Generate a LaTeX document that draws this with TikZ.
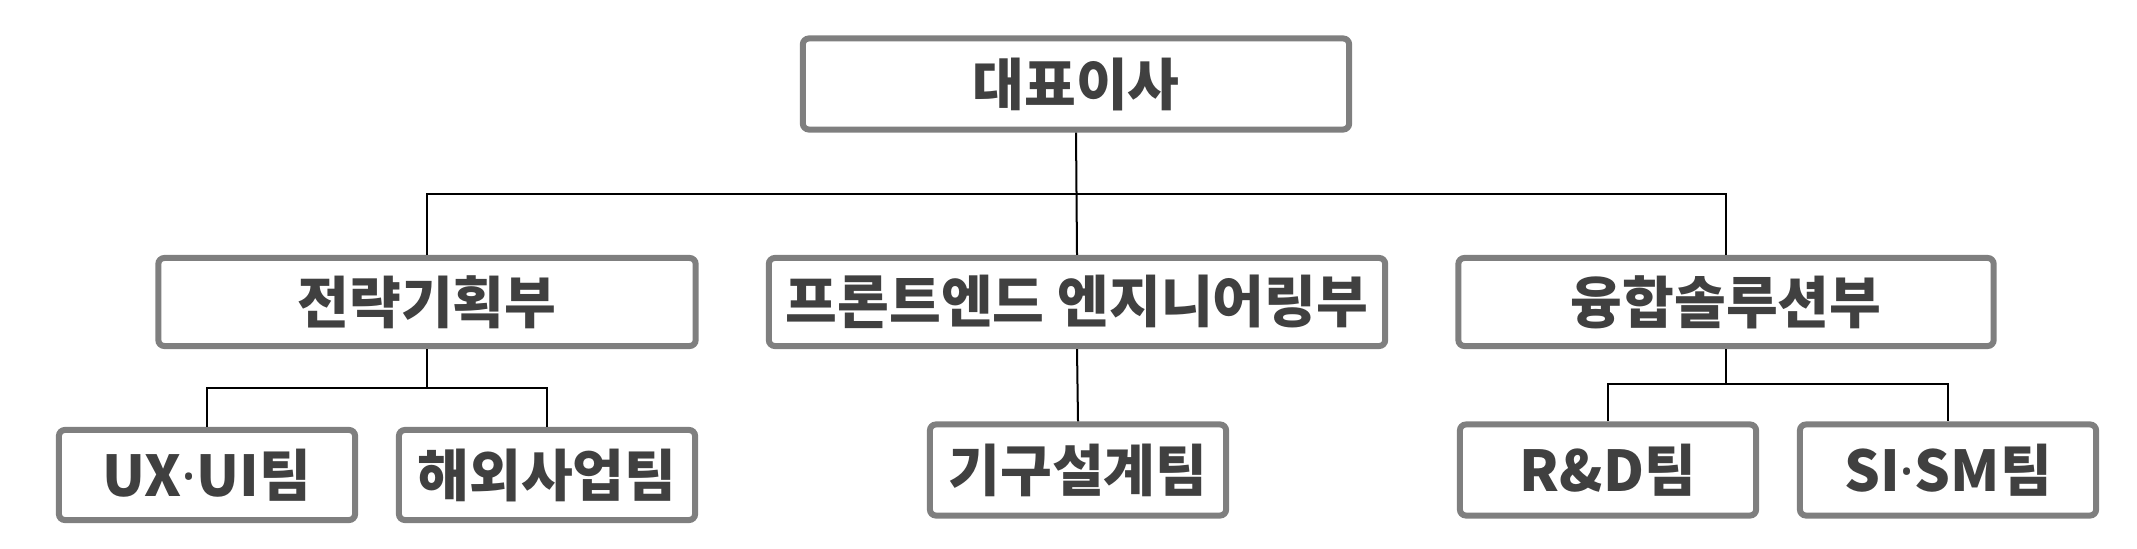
\documentclass[tikz,border=0pt]{standalone}
\usepackage{fontspec}
\setmainfont{Noto Sans CJK KR}
\newfontfamily\dotfont{Noto Sans}
\usepackage{xcolor}
\definecolor{boxgray}{HTML}{7F7F7F}
\definecolor{txtgray}{HTML}{404040}
\newcommand{\mdot}{{\dotfont\bfseries ·}}

\begin{document}
\begin{tikzpicture}[x=0.01cm,y=-0.01cm,
  unit/.style={draw=boxgray,line width=0.06cm,rounded corners=0.06cm,fill=white,
    text=txtgray,font=\fontsize{16}{19}\selectfont\bfseries,inner sep=0pt},
  dept/.style={unit,minimum height=0.88cm},
  team/.style={unit,minimum width=2.96cm,minimum height=0.90cm},
  link/.style={line width=0.02cm,black}]
\useasboundingbox (0,0) rectangle (2137,549);

\node[unit,minimum width=5.46cm,minimum height=0.91cm] (ceo) at (1076,84) {대표이사};

\node[dept,minimum width=5.37cm] (strat) at (427,302) {전략기획부};
\node[dept,minimum width=6.16cm] (front) at (1077,302) {프론트엔드 엔지니어링부};
\node[dept,minimum width=5.35cm] (fuse) at (1726,302) {융합솔루션부};

\node[team] (ux) at (207,475) {UX\mdot UI팀};
\node[team] (abroad) at (547,475) {해외사업팀};
\node[team,minimum height=0.91cm] (mech) at (1078,470) {기구설계팀};
\node[team,minimum height=0.91cm] (rnd) at (1608,470) {R\&D팀};
\node[team,minimum height=0.91cm] (sism) at (1948,470) {SI\mdot SM팀};

\coordinate (bus) at (0,194);
\coordinate (lbus) at (0,388);
\coordinate (rbus) at (0,384);

% top level
\draw[link] (ceo.south) -- (front.north);
\draw[link] (strat.north) |- (ceo.south |- bus) -| (fuse.north);

% teams
\draw[link] (strat.south) -- (strat.south |- lbus);
\draw[link] (ux.north) |- (strat.south |- lbus) -| (abroad.north);
\draw[link] (front.south) -- (mech.north);
\draw[link] (fuse.south) -- (fuse.south |- rbus);
\draw[link] (rnd.north) |- (fuse.south |- rbus) -| (sism.north);
\end{tikzpicture}
\end{document}
